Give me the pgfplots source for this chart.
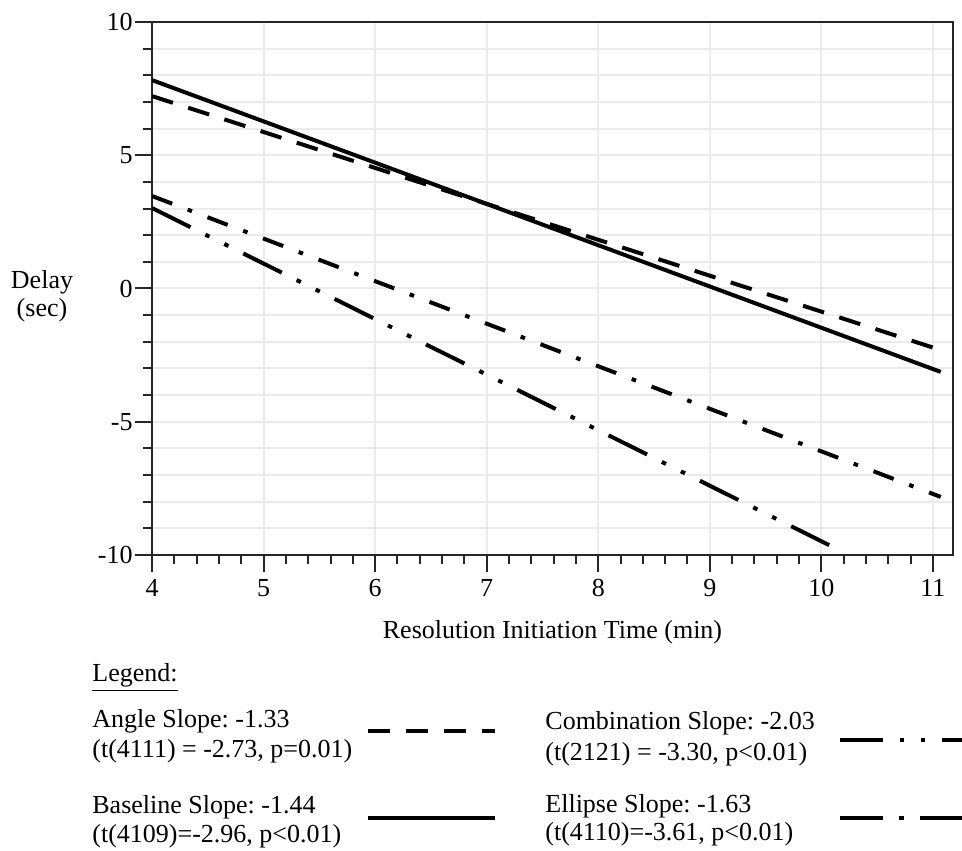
\documentclass[border=0pt]{standalone}
\usepackage{fontspec}
\setmainfont{Liberation Serif}
\usepackage{pgfplots}
\pgfplotsset{compat=1.18}
\newcommand{\ff}{\fontsize{13}{15}\selectfont}
\frenchspacing
\begin{document}
\begin{tikzpicture}[font=\ff]
\useasboundingbox (0,0) rectangle (481pt,425pt);
\begin{axis}[
  at={(76pt,147.5pt)}, anchor=south west,
  scale only axis, width=400.5pt, height=266.5pt,
  xmin=4, xmax=11.18, ymin=-10, ymax=10,
  xtick={4,5,6,7,8,9,10,11}, ytick={-10,-5,0,5,10},
  minor x tick num=4, minor y tick num=4,
  xmajorgrids, ymajorgrids, yminorgrids,
  major grid style={draw=black!8, line width=1pt},
  minor grid style={draw=black!8, line width=1pt},
  axis line style={line width=1pt, draw=black!85},
  tick style={line width=1pt, draw=black!85},
  tick align=outside, tick pos=left,
  major tick length=8.5pt, minor tick length=4.5pt,
  /pgf/number format/assume math mode=true,
  tick label style={font=\ff},
  yticklabel style={inner sep=1pt},
  xticklabel style={inner sep=2pt, yshift=-1.5pt},
  xlabel={Resolution Initiation Time (min)},
  every axis x label/.style={at={(axis description cs:0.5,0)}, anchor=center, yshift=-38.5pt, font=\ff},
  ylabel={Delay\\(sec)},
  every axis y label/.style={at={(axis description cs:0,0.5)}, anchor=center, xshift=-55pt, yshift=-4pt, align=center, font=\fontsize{13}{14}\selectfont},
]
% Angle (dashed)
\addplot[black, line width=2pt, dash pattern=on 11pt off 8pt] coordinates {(4,7.22) (11.07,-2.31)};
% Baseline (solid)
\addplot[black, line width=2pt] coordinates {(4,7.82) (11.07,-3.13)};
% Ellipse (dash dot)
\addplot[black, line width=2pt, dash pattern=on 10.8pt off 8.3pt on 2.3pt off 8.3pt] coordinates {(4,3.47) (11.07,-7.82)};
% Combination (dash dot dot)
\addplot[black, line width=2pt, dash pattern=on 21.5pt off 8.3pt on 2.3pt off 8.3pt on 2.3pt off 8.3pt] coordinates {(4,3.02) (10.07,-9.63)};
\end{axis}
% legend
\node[anchor=base west, inner sep=0pt] at (46pt,84pt) {\underline{Legend:}};
\node[anchor=base west, inner sep=0pt] at (46pt,61pt) {Angle Slope: -1.33};
\node[anchor=base west, inner sep=0pt] at (46pt,46pt) {(t(4111) = -2.73, p=0.01)};
\node[anchor=base west, inner sep=0pt] at (46pt,18.5pt) {Baseline Slope: -1.44};
\node[anchor=base west, inner sep=0pt] at (46pt,4pt) {(t(4109)=-2.96, p<0.01)};
\node[anchor=base west, inner sep=0pt] at (272.5pt,60pt) {Combination Slope: -2.03};
\node[anchor=base west, inner sep=0pt] at (272.5pt,45pt) {(t(2121) = -3.30, p<0.01)};
\node[anchor=base west, inner sep=0pt] at (272.5pt,19pt) {Ellipse Slope: -1.63};
\node[anchor=base west, inner sep=0pt] at (272.5pt,5pt) {(t(4110)=-3.61, p<0.01)};
\draw[line width=2pt, dash pattern=on 11pt off 8pt] (184pt,59.5pt) -- (247.5pt,59.5pt);
\draw[line width=2pt] (184pt,16pt) -- (247.5pt,16pt);
\draw[line width=2pt, dash pattern=on 21.5pt off 8.3pt on 2.3pt off 8.3pt on 2.3pt off 8.3pt] (420pt,55pt) -- (485pt,55pt);
\draw[line width=2pt, dash pattern=on 21.5pt off 8pt on 2.3pt off 8.3pt] (420pt,16pt) -- (485pt,16pt);
\end{tikzpicture}
\end{document}
